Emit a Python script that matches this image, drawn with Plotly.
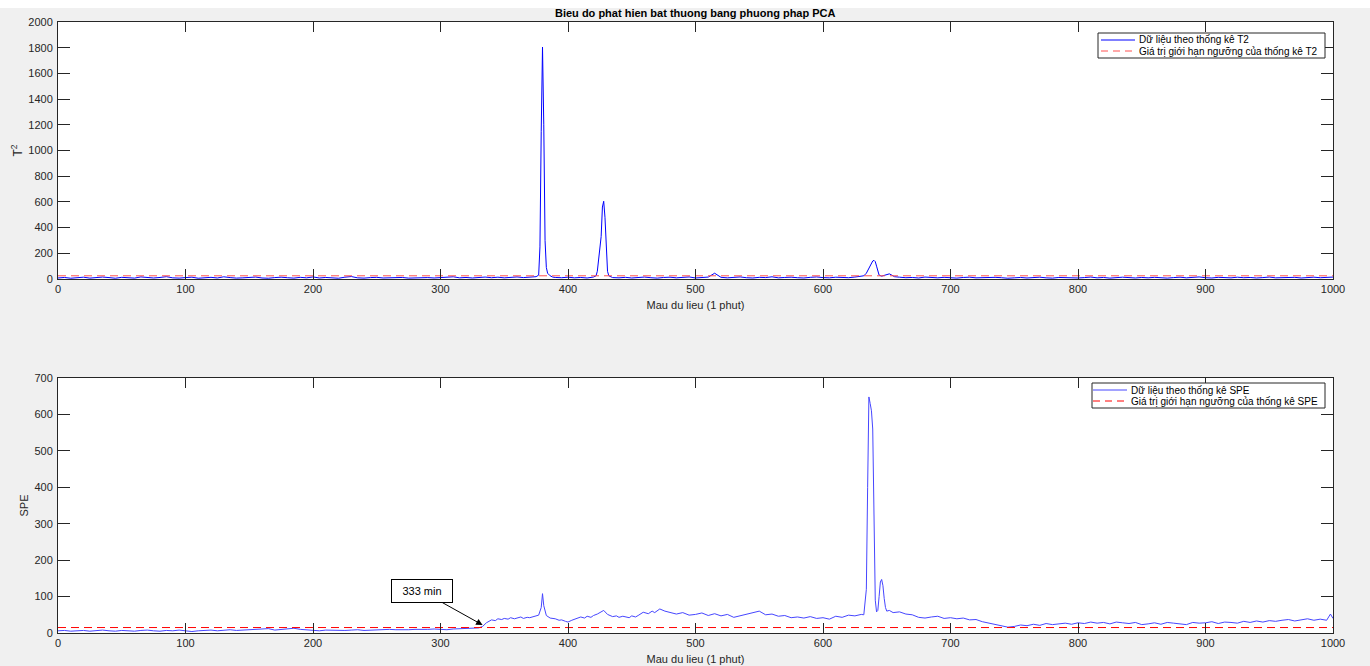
import plotly.graph_objects as go

# ---------------- T2 statistic ----------------
t2_x_a = list(range(0, 376, 5))
t2_y_a = [8, 12, 6, 10, 14, 7, 9, 15, 11, 6,
          13, 9, 7, 16, 10, 8, 12, 18, 9, 7,
          11, 14, 6, 10, 13, 8, 17, 11, 7, 9,
          12, 15, 8, 6, 11, 14, 10, 7, 13, 9,
          16, 8, 12, 10, 6, 14, 19, 9, 7, 11,
          13, 8, 10, 15, 12, 7, 9, 14, 11, 8,
          10, 13, 17, 9, 12, 8, 11, 15, 10, 14,
          9, 12, 16, 11, 13, 18]
t2_x_s1 = [377, 378, 379, 380, 381, 382, 383, 384, 386, 388, 390]
t2_y_s1 = [30, 250, 1150, 1805, 1200, 300, 90, 45, 25, 15, 12]
t2_x_b = [395, 400, 405, 410, 415, 420]
t2_y_b = [10, 14, 9, 12, 8, 15]
t2_x_s2 = [422, 423, 424, 425, 426, 427, 428, 429, 430, 431, 432, 434]
t2_y_s2 = [25, 60, 150, 220, 330, 560, 605, 480, 200, 60, 25, 14]
t2_x_c = list(range(435, 631, 5))
t2_y_c = [11, 9, 13, 8, 12, 15, 10, 7, 12, 14,
          9, 11, 16, 8, 12, 15, 45, 13, 9, 12,
          16, 10, 8, 13, 11, 17, 9, 12, 14, 10,
          8, 13, 16, 11, 9, 14, 12, 10, 15, 18]
t2_x_s3 = [632, 634, 636, 637, 638, 639, 640, 641, 642, 643, 644, 646, 648, 650, 652, 654, 656]
t2_y_s3 = [25, 45, 85, 110, 130, 140, 145, 135, 100, 55, 30, 22, 28, 38, 40, 30, 18]
t2_x_d = list(range(660, 1001, 5))
t2_y_d = [14, 10, 12, 8, 15, 11, 9, 13, 10, 7,
          12, 14, 9, 11, 8, 13, 10, 6, 9, 12,
          8, 11, 14, 9, 7, 12, 10, 13, 8, 11,
          15, 9, 12, 7, 10, 14, 11, 8, 12, 9,
          13, 10, 7, 11, 14, 9, 12, 16, 10, 8,
          13, 11, 9, 14, 10, 12, 8, 11, 15, 9,
          12, 10, 13, 8, 11, 14, 10, 12, 15]
t2_limit = 25

# ---------------- SPE statistic ----------------
spe_x_a = list(range(0, 331, 5))
spe_y_a = [6, 7, 5, 6, 7, 5, 6, 8, 6, 5,
           7, 6, 5, 7, 8, 6, 5, 7, 6, 8,
           7, 4, 6, 7, 8, 6, 7, 9, 7, 8,
           7, 9, 10, 12, 8, 9, 11, 13, 10, 8,
           7, 6, 8, 7, 6, 7, 8, 9, 7, 8,
           9, 8, 10, 9, 8, 9, 10, 9, 10, 11,
           10, 9, 11, 12, 12, 13, 14]
spe_x_b = [333, 336, 340, 343, 345, 348, 350, 353, 355, 358, 360, 363, 365, 368, 370, 374,
           377, 379, 380, 381, 383, 386, 390, 393, 395, 398, 400, 403, 406, 410, 413, 415,
           418, 420, 423, 425, 428, 431, 435, 438, 440, 443, 445, 448, 450, 453, 455, 459,
           463, 466, 468, 472, 476, 480]
spe_y_b = [18, 28, 36, 34, 39, 37, 40, 38, 42, 39, 41, 44, 40, 43, 42, 46,
           49, 70, 108, 75, 48, 41, 39, 35, 36, 32, 30, 35, 39, 44, 41, 46,
           43, 48, 52, 56, 62, 51, 45, 47, 43, 46, 44, 42, 47, 44, 48, 57,
           53, 60, 56, 66, 60, 57]
spe_x_c = list(range(485, 631, 5))
spe_y_c = [52, 56, 49, 51, 55, 48, 53, 47, 51, 43,
           47, 52, 55, 60, 50, 52, 46, 48, 42, 44,
           41, 45, 40, 42, 38, 46, 43, 49, 47, 51]
spe_x_s = [632, 634, 635, 636, 637, 638, 639, 640, 641, 642, 643, 644, 645, 646, 647, 648,
           649, 650, 652, 655]
spe_y_s = [50, 120, 400, 648, 630, 610, 560, 300, 90, 58, 62, 100, 140, 147, 130, 95,
           70, 60, 62, 56]
spe_x_d = list(range(660, 746, 5))
spe_y_d = [58, 52, 50, 43, 41, 44, 46, 40, 42, 39, 41, 36, 37, 31, 27, 24, 20, 16]
spe_x_e = list(range(750, 996, 5)) + [998, 1000]
spe_y_e = [18, 22, 20, 24, 21, 26, 23, 25, 27, 24,
           28, 26, 30, 27, 29, 25, 30, 28, 26, 29,
           23, 25, 28, 24, 29, 27, 26, 23, 29, 27,
           28, 31, 26, 30, 29, 27, 32, 29, 33, 30,
           34, 32, 35, 37, 33, 36, 39, 35, 38, 35,
           52, 40]
spe_limit = 15

x_range = [0, 1000]
annot_x = 333
annot_y = 22
annot_text = "333 min"
legend1_labels = ["Dữ liệu theo thống kê T2", "Giá trị giới hạn ngưỡng của thống kê T2"]
legend2_labels = ["Dữ liệu theo thống kê SPE", "Giá trị giới hạn ngưỡng của thống kê SPE"]

t2_x = t2_x_a + t2_x_s1 + t2_x_b + t2_x_s2 + t2_x_c + t2_x_s3 + t2_x_d
t2_y = t2_y_a + t2_y_s1 + t2_y_b + t2_y_s2 + t2_y_c + t2_y_s3 + t2_y_d
spe_x = spe_x_a + spe_x_b + spe_x_c + spe_x_s + spe_x_d + spe_x_e
spe_y = spe_y_a + spe_y_b + spe_y_c + spe_y_s + spe_y_d + spe_y_e
assert len(t2_x) == len(t2_y)
assert len(spe_x) == len(spe_y)

W, H = 1370, 666
FONT = "Liberation Sans, Arial, Helvetica, sans-serif"
AX = "#262626"
C_T2 = "#0000ff"
C_T2L = "rgb(255,80,80)"
C_SPE = "rgb(70,70,255)"
C_SPEL = "#ff0000"
DASH = "8px,5px"

fig = go.Figure()
fig.add_trace(go.Scatter(x=t2_x, y=t2_y, mode="lines", name=legend1_labels[0],
                         line=dict(color=C_T2, width=1), xaxis="x", yaxis="y"))
fig.add_trace(go.Scatter(x=x_range, y=[t2_limit, t2_limit], mode="lines",
                         name=legend1_labels[1],
                         line=dict(color=C_T2L, width=1, dash=DASH), xaxis="x", yaxis="y"))
fig.add_trace(go.Scatter(x=spe_x, y=spe_y, mode="lines", name=legend2_labels[0],
                         line=dict(color=C_SPE, width=1), xaxis="x2", yaxis="y2"))
fig.add_trace(go.Scatter(x=x_range, y=[spe_limit, spe_limit], mode="lines",
                         name=legend2_labels[1],
                         line=dict(color=C_SPEL, width=1, dash=DASH), xaxis="x2", yaxis="y2"))

xd = [58 / W, 1333 / W]
common_x = dict(range=x_range, dtick=100, tick0=0, showgrid=False, zeroline=False,
                showline=True, linecolor=AX, linewidth=1, mirror="ticks",
                ticks="inside", ticklen=10, tickcolor=AX, automargin=False,
                tickfont=dict(size=11, color=AX, family=FONT),
                title=dict(text="Mau du lieu (1 phut)", font=dict(size=11, color=AX, family=FONT),
                           standoff=7))
common_y = dict(showgrid=False, zeroline=False, showline=True, linecolor=AX, linewidth=1,
                mirror="ticks", ticks="inside", ticklen=12, tickcolor=AX, automargin=False,
                ticklabelstandoff=2,
                tickfont=dict(size=11, color=AX, family=FONT))


def px(xp):
    return xp / W


def py(yp):
    return 1 - yp / H


shapes = [dict(type="rect", xref="paper", yref="paper", x0=0, x1=1, y0=py(8), y1=1,
               fillcolor="#ffffff", line=dict(width=0), layer="below")]
annotations = []

# manual legends (box, line samples, labels)
legend_specs = [
    dict(box=(1098, 1325, 33, 58), line=(1101, 1135), text_x=1137, rows=(40, 51),
         labels=legend1_labels, colors=(C_T2, C_T2L)),
    dict(box=(1092, 1325, 383, 408), line=(1093, 1127), text_x=1129, rows=(390, 401),
         labels=legend2_labels, colors=(C_SPE, C_SPEL)),
]
for spec in legend_specs:
    bx0, bx1, by0, by1 = spec["box"]
    shapes.append(dict(type="rect", xref="paper", yref="paper", x0=px(bx0), x1=px(bx1),
                       y0=py(by1), y1=py(by0), fillcolor="#ffffff",
                       line=dict(color=AX, width=1), layer="above"))
    for i, (row, lab, col) in enumerate(zip(spec["rows"], spec["labels"], spec["colors"])):
        shapes.append(dict(type="line", xref="paper", yref="paper",
                           x0=px(spec["line"][0]), x1=px(spec["line"][1]),
                           y0=py(row), y1=py(row),
                           line=dict(color=col, width=1, dash="solid" if i == 0 else "7px,5px"),
                           layer="above"))
        annotations.append(dict(text=lab, xref="paper", yref="paper", x=px(spec["text_x"]),
                                y=py(row), xanchor="left", yanchor="middle", showarrow=False,
                                font=dict(size=10, color="#000000", family=FONT)))

annotations.append(dict(text="<b>Bieu do phat hien bat thuong bang phuong phap PCA</b>",
                        xref="paper", yref="paper", x=(xd[0] + xd[1]) / 2, y=py(13),
                        xanchor="center", yanchor="middle", showarrow=False,
                        font=dict(size=11, color="#000000", family=FONT)))
annotations.append(dict(text=annot_text, x=annot_x, y=annot_y, xref="x2", yref="y2",
                        showarrow=True, arrowhead=2, arrowsize=1.3, arrowwidth=1,
                        arrowcolor="#000000", ax=-61, ay=-34, bgcolor="#ffffff",
                        bordercolor="#000000", borderwidth=1, borderpad=2, width=56, height=18,
                        font=dict(size=11, color="#000000", family=FONT)))

fig.update_layout(
    width=W, height=H,
    margin=dict(l=0, r=0, t=0, b=0, autoexpand=False),
    paper_bgcolor="#f0f0f0",
    plot_bgcolor="#ffffff",
    font=dict(family=FONT, size=11, color=AX),
    showlegend=False,
    xaxis=dict(domain=xd, anchor="y", **common_x),
    yaxis=dict(domain=[py(279), py(22)], anchor="x", range=[0, 2000], dtick=200,
               title=dict(text="T<sup>2</sup>", font=dict(size=12, color=AX, family=FONT),
                          standoff=3),
               **common_y),
    xaxis2=dict(domain=xd, anchor="y2", **common_x),
    yaxis2=dict(domain=[py(633), py(378)], anchor="x2", range=[0, 700], dtick=100,
                title=dict(text="SPE", font=dict(size=11, color=AX, family=FONT), standoff=3),
                **common_y),
    shapes=shapes,
    annotations=annotations,
)

fig.write_html("out.html", config={"displayModeBar": False},
               post_script="document.body.style.margin='0';")
